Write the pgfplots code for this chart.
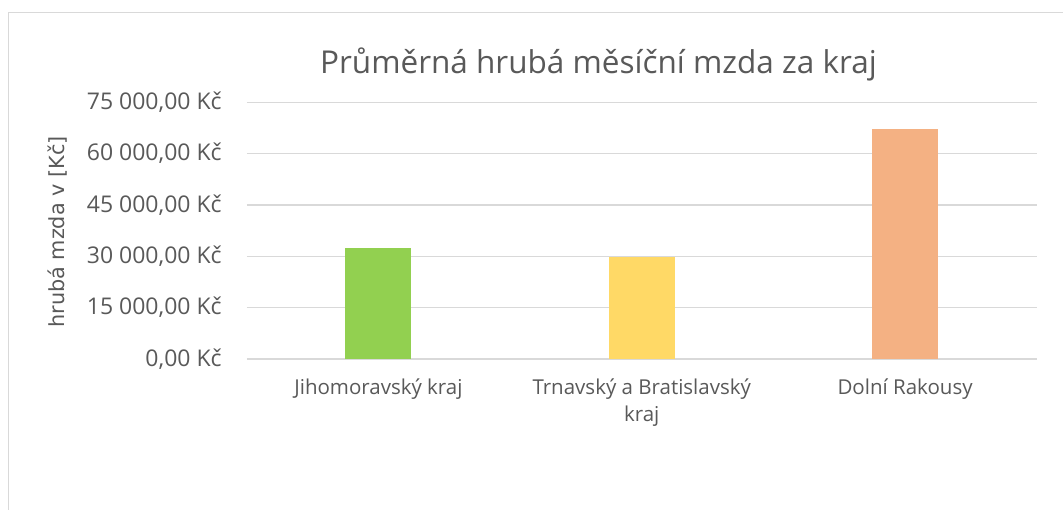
\documentclass[border=0pt]{standalone}
\usepackage{pgfplots}
\pgfplotsset{compat=1.18}
\usepackage{fontspec}
\setmainfont{Open Sans}
\newfontfamily\ylabfont{DejaVu Sans}
\definecolor{txtgray}{RGB}{89,89,89}
\definecolor{gridgray}{RGB}{217,217,217}
\definecolor{framegray}{RGB}{217,217,217}
\definecolor{barA}{RGB}{146,208,80}
\definecolor{barB}{RGB}{255,217,102}
\definecolor{barC}{RGB}{244,177,131}
\begin{document}
\begin{tikzpicture}
\useasboundingbox (0pt,0pt) rectangle (1063pt,509pt);
\fill[white] (0pt,0pt) rectangle (1063pt,509pt);
\draw[framegray, line width=1.2pt] (8.5pt,-20pt) -- (8.5pt,496.5pt) -- (1100pt,496.5pt);
\begin{axis}[
  at={(246.8pt,150pt)}, anchor=south west,
  scale only axis, width=789.9pt, height=256.7pt,
  xmin=-0.5, xmax=2.5, ymin=0, ymax=75000,
  scaled y ticks=false,
  axis line style={draw=none},
  major tick length=0pt,
  ymajorgrids, grid style={gridgray, line width=1.3pt},
  ytick={0,15000,30000,45000,60000,75000},
  yticklabels={{0,00 Kč},{15 000,00 Kč},{30 000,00 Kč},{45 000,00 Kč},{60 000,00 Kč},{75 000,00 Kč}},
  yticklabel style={font=\fontsize{23}{26}\selectfont, text=txtgray, inner sep=0pt, anchor=east, xshift=-25pt},
  xtick={0,1,2},
  xticklabels={{Jihomoravský kraj},{Trnavský a Bratislavský\\kraj},{Dolní Rakousy}},
  xticklabel style={font=\fontsize{20.5}{27}\selectfont, text=txtgray, align=center, anchor=north, inner sep=0pt, yshift=-20pt},
  ybar, bar width=66pt, bar shift=0pt,
]
\addplot[ybar, bar shift=0pt, draw=none, fill=barA] coordinates {(0,32400)};
\addplot[ybar, bar shift=0pt, draw=none, fill=barB] coordinates {(1,29800)};
\addplot[ybar, bar shift=0pt, draw=none, fill=barC] coordinates {(2,67200)};
\end{axis}
\node[anchor=base, text=txtgray, font=\fontsize{31.5}{36}\selectfont] at (598.5pt,435.7pt) {Průměrná hrubá měsíční mzda za kraj};
\node[anchor=base, rotate=90, text=txtgray, font=\ylabfont\fontsize{20.8}{24}\selectfont] at (64pt,277pt) {hrubá mzda v [Kč]};
\end{tikzpicture}
\end{document}
